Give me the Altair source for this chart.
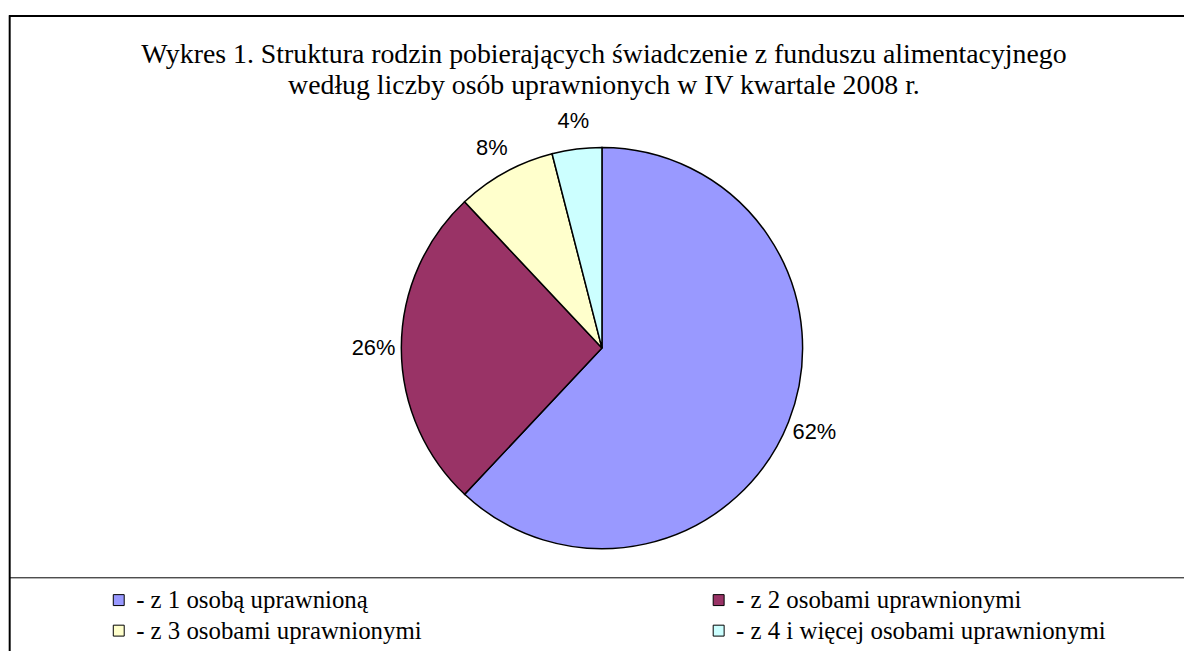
import altair as alt
import pandas as pd

categories = [
    "z 1 osobą uprawnioną",
    "z 2 osobami uprawnionymi",
    "z 3 osobami uprawnionymi",
    "z 4 i więcej osobami uprawnionymi",
]
shares = [62, 26, 8, 4]
share_labels = ["62%", "26%", "8%", "4%"]
colors = ["#9999FF", "#993366", "#FFFFCC", "#CCFFFF"]
title_lines = [
    "Wykres 1. Struktura rodzin pobierających świadczenie z funduszu alimentacyjnego",
    "według liczby osób uprawnionych w IV kwartale 2008 r.",
]

df = pd.DataFrame({
    "kategoria": categories,
    "udzial": shares,
    "etykieta": share_labels,
    "kolejnosc": list(range(len(categories))),
})
one = pd.DataFrame({"k": [0]})

W, H = 1184, 700
CX, CY = 598, 340
R = 202

base = alt.Chart(df).encode(
    theta=alt.Theta("udzial:Q", stack=True),
    order=alt.Order("kolejnosc:Q"),
)

pie = base.mark_arc(outerRadius=R, stroke="black", strokeWidth=1.5).encode(
    x=alt.value(CX),
    y=alt.value(CY),
    color=alt.Color(
        "kategoria:N",
        scale=alt.Scale(domain=categories, range=colors),
        legend=alt.Legend(
            title=None,
            orient="none",
            direction="horizontal",
            legendX=99,
            legendY=581,
            columns=2,
            columnPadding=286,
            rowPadding=5,
            symbolType="square",
            symbolSize=121,
            symbolStrokeColor="black",
            symbolStrokeWidth=1,
            labelFont="Liberation Serif",
            labelFontSize=25,
            labelColor="black",
            labelOffset=5,
            labelLimit=700,
            padding=0,
            labelExpr="'- ' + datum.label",
        ),
    ),
)

pct = base.mark_text(radius=R + 28, font="Liberation Sans", fontSize=22, color="black").encode(
    x=alt.value(CX),
    y=alt.value(CY),
    text="etykieta:N",
)

title = alt.Chart(one).mark_text(
    font="Liberation Serif", fontSize=28, lineHeight=31, color="black", baseline="middle"
).encode(x=alt.value(600), y=alt.value(45), text=alt.value(title_lines))

frame_top = alt.Chart(one).mark_rule(color="black", strokeWidth=2).encode(
    x=alt.value(1), x2=alt.value(W), y=alt.value(5.7)
)
frame_left = alt.Chart(one).mark_rule(color="black", strokeWidth=2).encode(
    x=alt.value(1.7), y=alt.value(5), y2=alt.value(H)
)
sep = alt.Chart(one).mark_rule(color="black", strokeWidth=1).encode(
    x=alt.value(1.7), x2=alt.value(W), y=alt.value(571.3)
)

chart = alt.layer(frame_top, frame_left, sep, title, pie, pct).properties(
    width=W, height=H, autosize=alt.AutoSizeParams(type="none"), padding=0
).configure_view(stroke=None)

chart.save("out.html", embed_options={"renderer": "svg", "actions": False})
